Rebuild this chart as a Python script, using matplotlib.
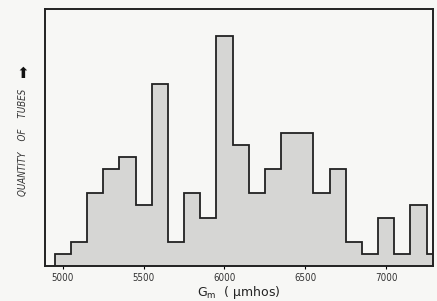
import numpy as np
import matplotlib
matplotlib.use('Agg')
import matplotlib.pyplot as plt

# Gm bin edges (umhos) and tube counts
bin_edges = [4950, 5050, 5150, 5250, 5350, 5450, 5550, 5650, 5750, 5850, 5950,
             6050, 6150, 6250, 6350, 6450, 6550, 6650, 6750, 6850, 6950, 7050,
             7150, 7250, 7350]
counts = [1, 2, 6, 8, 9, 5, 15, 2, 6, 4, 19, 10, 6, 8, 11, 11, 6, 8, 2, 1, 4, 1, 5, 1]
tick_values = [5000, 5500, 6000, 6500, 7000]

fig = plt.figure(figsize=(4.37, 3.01), dpi=100, facecolor='#f7f7f5')
ax = fig.add_axes([0.103, 0.116, 0.888, 0.854])
ax.set_facecolor('#f7f7f5')

ax.stairs(counts, bin_edges, fill=True, color='#d6d6d4', baseline=0)
ax.stairs(counts, bin_edges, color='#222222', linewidth=1.3, baseline=0)

ax.set_xlim(4890, 7290)
ax.set_ylim(0, 21.2)
ax.set_yticks([])
ax.set_xticks(tick_values)
ax.set_xticklabels([str(v) for v in tick_values], fontsize=7,
                   fontstretch='condensed', color='#333333')
ax.tick_params(axis='x', direction='out', length=2, width=0.8, pad=3)
for side in ax.spines.values():
    side.set_linewidth(1.4)
    side.set_color('#222222')

ax.set_xlabel('G$_{\\mathrm{m}}$  ( \u00b5mhos)', fontsize=9, color='#222222', labelpad=1)

fig.text(0.052, 0.528, 'QUANTITY    OF    TUBES', rotation=90, ha='center', va='center',
         fontsize=7, style='oblique', fontstretch='condensed', color='#333333')
fig.text(0.052, 0.757, '\u2B06', rotation=0, ha='center', va='center',
         fontsize=11, color='#111111')

fig.savefig('out.png', dpi=100, facecolor=fig.get_facecolor())
